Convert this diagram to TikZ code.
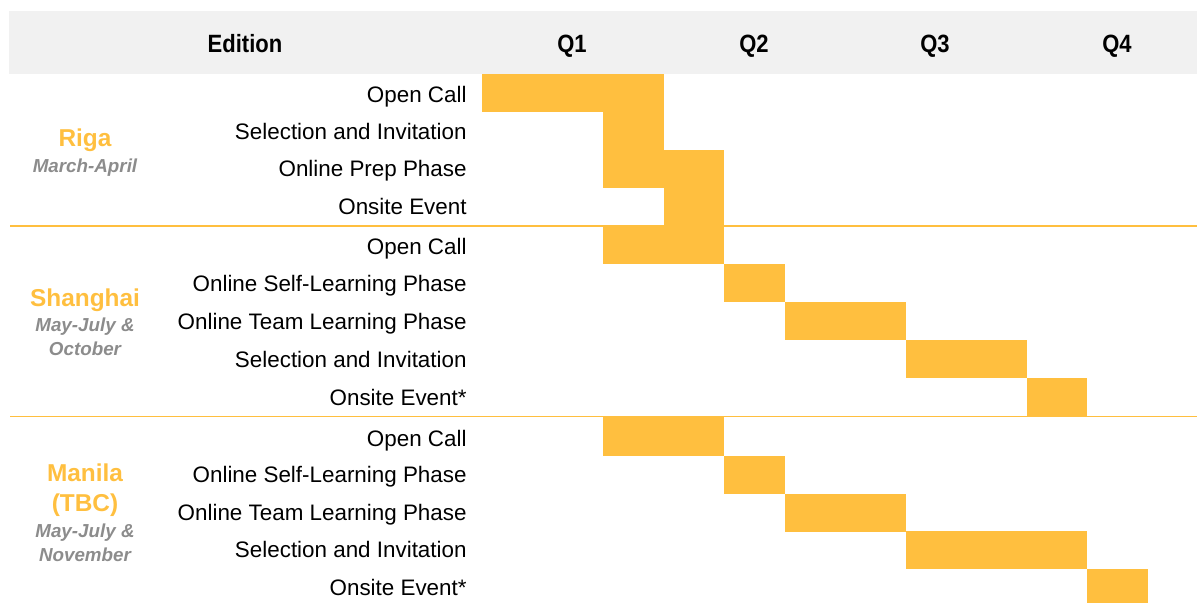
\documentclass[tikz,border=0pt]{standalone}
\usepackage{fontspec}
\usepackage{graphicx}
\setmainfont{Liberation Sans}
\definecolor{barY}{HTML}{FFBF3F}
\definecolor{hdrG}{HTML}{F1F1F1}
\definecolor{subG}{HTML}{8C8C8C}
\newcommand{\hdrtxt}[1]{{\fontsize{12.5}{15}\selectfont\bfseries\scalebox{0.88}[1]{#1}}}
\tikzset{
  lbl/.style={anchor=base east, inner sep=0pt, font=\fontsize{11.2}{13}\selectfont},
  city/.style={anchor=base, inner sep=0pt, text=barY, font=\fontsize{12.2}{14}\selectfont\bfseries},
  sub/.style={anchor=base, inner sep=0pt, text=subG, font=\fontsize{9.4}{11}\selectfont\bfseries\itshape},
  hdr/.style={anchor=base, inner sep=0pt},
  bar/.style={fill=barY},
  sep/.style={draw=barY, line width=0.75pt}
}
\begin{document}
\begin{tikzpicture}[x=0.5pt,y=-0.5pt]
\useasboundingbox (0,0) rectangle (1197,603);
% header
\fill[hdrG] (9,11) rectangle (1197,74);
\node[hdr] (hEd) at (245,52.5) {\hdrtxt{Edition}};
\node[hdr] (hQ1) at (572,52.5) {\hdrtxt{Q1}};
\node[hdr] (hQ2) at (754,52.5) {\hdrtxt{Q2}};
\node[hdr] (hQ3) at (935,52.5) {\hdrtxt{Q3}};
\node[hdr] (hQ4) at (1117,52.5) {\hdrtxt{Q4}};
% separators
\draw[sep] (10,226) -- (1197,226);
\draw[sep] (10,416.5) -- (1197,416.5);
% Riga bars
\fill[bar] (482,74) rectangle (663.5,112);
\fill[bar] (603,112) rectangle (663.5,150);
\fill[bar] (603,150) rectangle (724,188);
\fill[bar] (663.5,188) rectangle (724,226);
% Shanghai bars
\fill[bar] (603,226) rectangle (724,264);
\fill[bar] (724,264) rectangle (784.5,302);
\fill[bar] (784.5,302) rectangle (905.5,340);
\fill[bar] (905.5,340) rectangle (1026.5,378);
\fill[bar] (1026.5,378) rectangle (1087,416);
% Manila bars
\fill[bar] (603,417) rectangle (724,455.5);
\fill[bar] (724,455.5) rectangle (784.5,494);
\fill[bar] (784.5,494) rectangle (905.5,532);
\fill[bar] (905.5,531) rectangle (1087,569);
\fill[bar] (1087,569) rectangle (1147.5,603);
% Riga labels
\node[lbl] (r1) at (467,102.3) {Open Call};
\node[lbl] (r2) at (467,139.7) {Selection and Invitation};
\node[lbl] (r3) at (467,176.7) {Online Prep Phase};
\node[lbl] (r4) at (467,214.7) {Onsite Event};
% Shanghai labels
\node[lbl] (s1) at (467,254.3) {Open Call};
\node[lbl] (s2) at (467,291.7) {Online Self-Learning Phase};
\node[lbl] (s3) at (467,329.3) {Online Team Learning Phase};
\node[lbl] (s4) at (467,367.7) {Selection and Invitation};
\node[lbl] (s5) at (467,406) {Onsite Event*};
% Manila labels
\node[lbl] (m1) at (467,446.7) {Open Call};
\node[lbl] (m2) at (467,482.7) {Online Self-Learning Phase};
\node[lbl] (m3) at (467,520) {Online Team Learning Phase};
\node[lbl] (m4) at (467,557.7) {Selection and Invitation};
\node[lbl] (m5) at (467,595) {Onsite Event*};
% cities
\node[city] (cR) at (85,146.7) {Riga};
\node[sub] (cRs) at (85,172.7) {March-April};
\node[city] (cS) at (85,306.7) {Shanghai};
\node[sub] (cSa) at (85,331.7) {May-July \&};
\node[sub] (cSb) at (85,355.7) {October};
\node[city] (cMa) at (85,481.7) {Manila};
\node[city] (cMb) at (85,511.7) {(TBC)};
\node[sub] (cMc) at (85,537.7) {May-July \&};
\node[sub] (cMd) at (85,561) {November};
\end{tikzpicture}
\end{document}
